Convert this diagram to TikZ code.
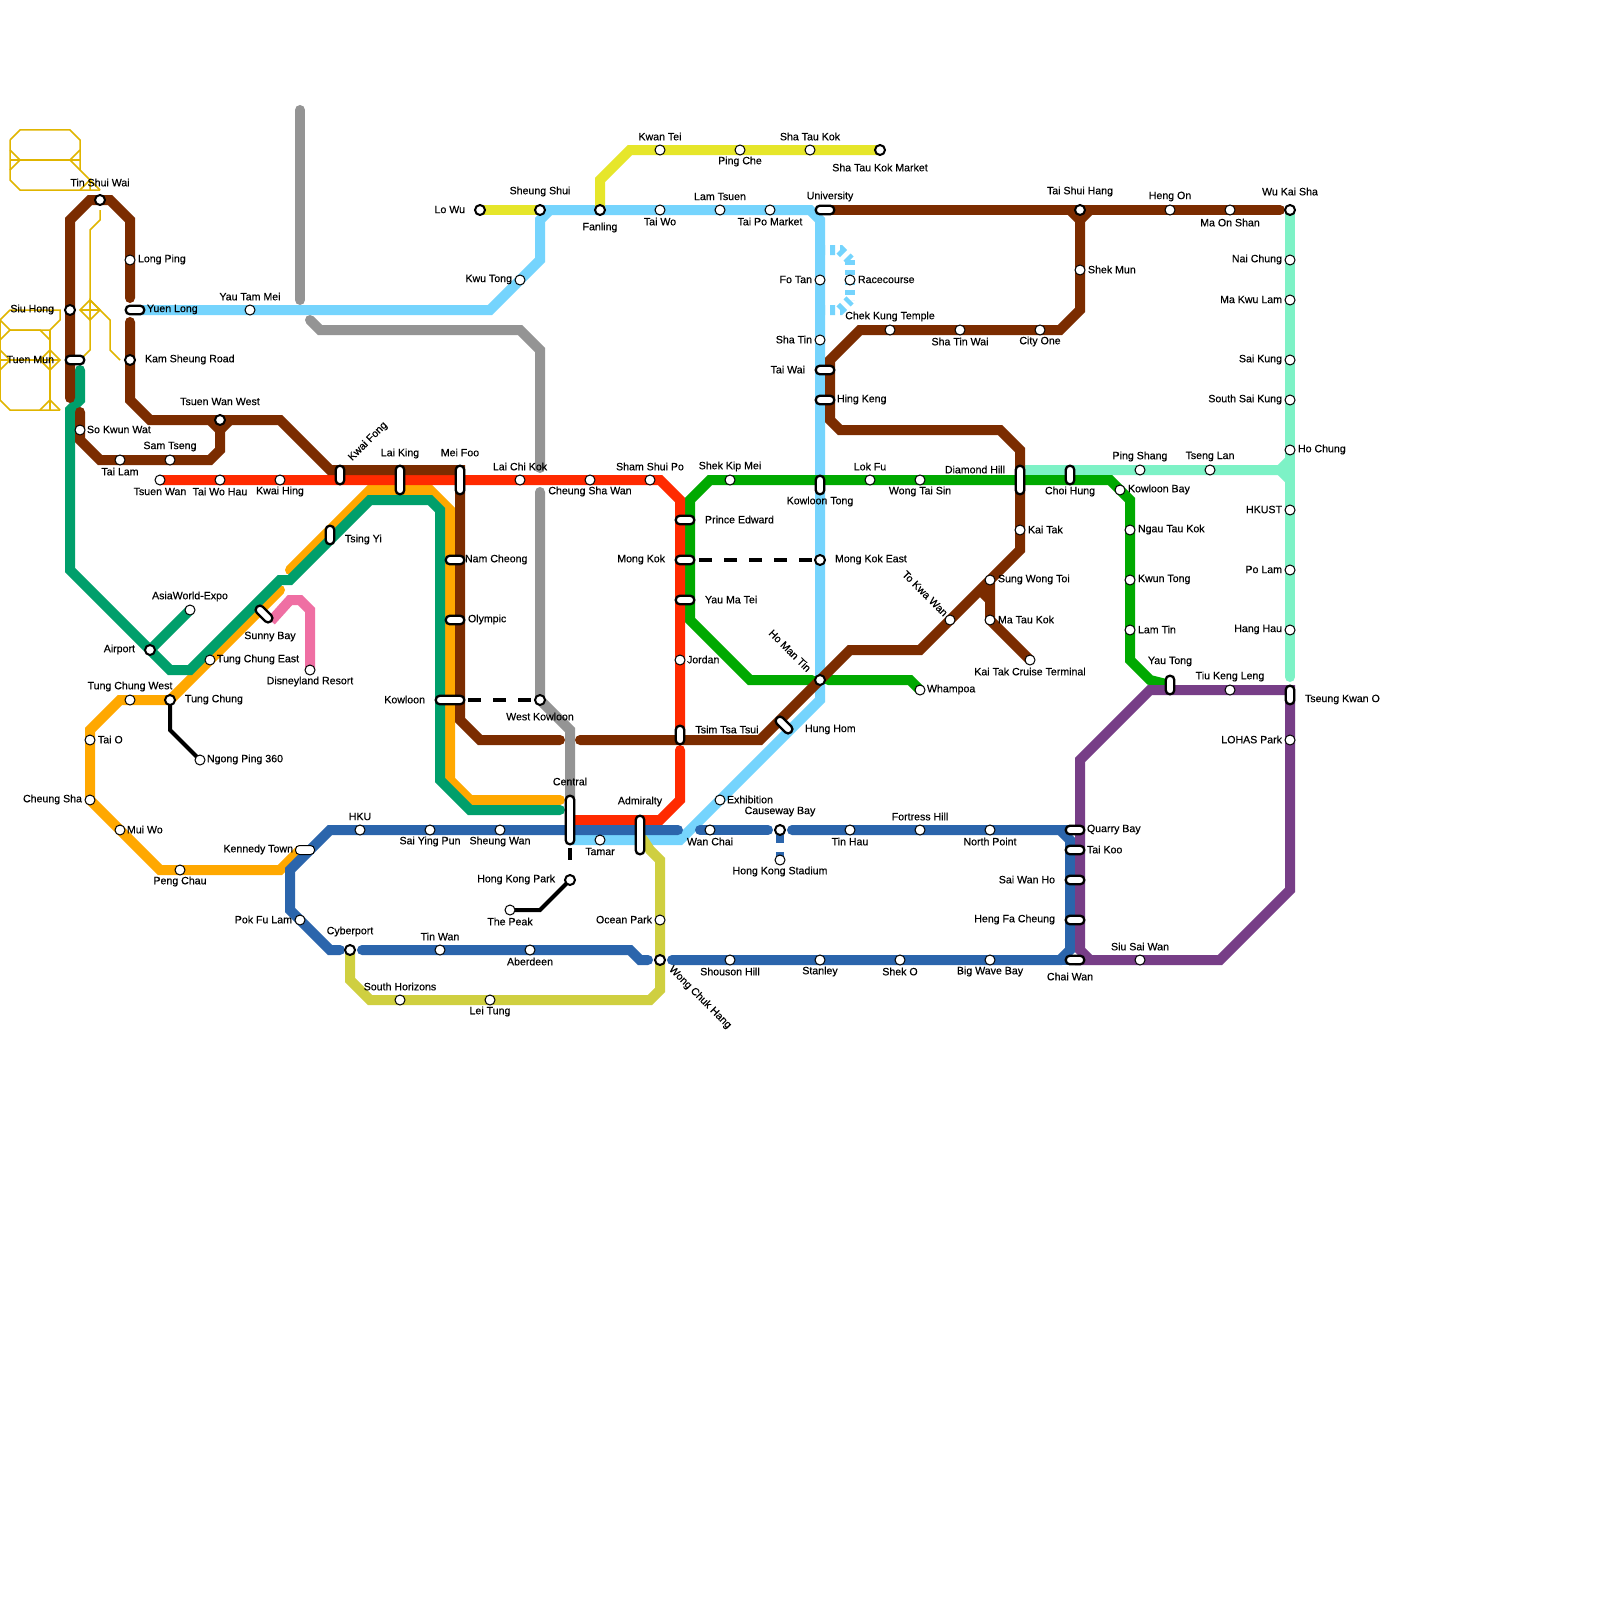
\documentclass[tikz,border=0pt]{standalone}
\usepackage{fontspec}
\setmainfont{Liberation Sans}[FakeBold=0.35]
\definecolor{cbrown}{HTML}{7B2C00}
\definecolor{csky}{HTML}{75D4FD}
\definecolor{cgreen}{HTML}{00A900}
\definecolor{cteal}{HTML}{009F6B}
\definecolor{corange}{HTML}{FFA800}
\definecolor{cred}{HTML}{FF2A00}
\definecolor{cgray}{HTML}{949494}
\definecolor{cyellow}{HTML}{E6E62A}
\definecolor{cpink}{HTML}{EF6FA3}
\definecolor{colive}{HTML}{CFCF40}
\definecolor{cblue}{HTML}{2B65AC}
\definecolor{cpurple}{HTML}{773E87}
\definecolor{cmint}{HTML}{7DF2C6}
\definecolor{criver}{HTML}{E0B500}
\pgfdeclarelayer{lines}
\pgfsetlayers{lines,main}
\tikzset{
  ln/.style={line width=10pt,line cap=round,line join=miter,miter limit=4},
  thinblack/.style={line width=4pt,line cap=round,line join=miter,black},
  dashlink/.style={line width=3.3pt,black},
  racedash/.style={line width=10pt,csky,dash pattern=on 5pt off 5pt},
  riverln/.style={line width=1.5pt,criver,line join=miter},
  st/.style={circle,draw=black,line width=1pt,fill=white,minimum size=10pt,inner sep=0pt,outer sep=0pt},
  ist/.style={circle,draw=black,line width=2pt,fill=white,minimum size=10pt,inner sep=0pt,outer sep=0pt},
  pill/.style 2 args={rectangle,draw=black,line width=2.3pt,fill=white,rounded corners=3.99pt,minimum width=#1pt,minimum height=#2pt,inner sep=0pt,outer sep=0pt},
  ph/.style={pill={18.5}{8.5}},
  pv/.style={pill={8.5}{18.5}},
  lab/.style={inner sep=0pt,outer sep=0pt,text=black,yshift=-0.5pt,font=\fontsize{10.6}{12}\selectfont},
  lc/.style={lab,anchor=center},
  lw/.style={lab,anchor=west},
  le/.style={lab,anchor=east},
}
\newcommand\SL[6]{\node[#1] (#2) at (#3) {}; \node[#4] (#2-t) at (#5) {#6};}
\begin{document}
\begin{tikzpicture}[x=1pt,y=-1pt]
\useasboundingbox (0,0) rectangle (1600,1600);

% stations
\SL{ist}{tsw}{100,200}{lc}{100,182}{Tin Shui Wai}
\SL{st}{longping}{130,260}{lw}{138,259}{Long Ping}
\SL{ph}{yuenlong}{135,310}{lw}{147,309}{Yuen Long}
\SL{ist}{siuhong}{70,310}{le}{54,309}{Siu Hong}
\SL{ph}{tuenmun}{75,360}{le}{54,359}{Tuen Mun}
\SL{ist}{kamsheung}{130,360}{lw}{145,359}{Kam Sheung Road}
\SL{ist}{tww}{220,420}{lc}{220,401}{Tsuen Wan West}
\SL{st}{sokwun}{80,430}{lw}{87,429}{So Kwun Wat}
\SL{st}{tailam}{120,460}{lc}{120,471}{Tai Lam}
\SL{st}{samtseng}{170,460}{lc}{170,446}{Sam Tseng}
\SL{st}{tsuenwan}{160,480}{lc}{160,491}{Tsuen Wan}
\SL{st}{taiwohau}{220,480}{lc}{220,491}{Tai Wo Hau}
\SL{st}{kwaihing}{280,480}{lc}{280,491}{Kwai Hing}
\SL{pv}{kwaifong}{340,475}{lc,rotate=45}{368,441}{Kwai Fong}
\SL{pill={8.5}{28.5}}{laiking}{400,480}{lc}{400,453}{Lai King}
\SL{pill={8.5}{28.5}}{meifoo}{460,480}{lc}{460,452}{Mei Foo}
\SL{st}{laichikok}{520,480}{lc}{520,466}{Lai Chi Kok}
\SL{st}{cheungsha}{590,480}{lc}{590,491}{Cheung Sha Wan}
\SL{st}{shamshui}{650,480}{lc}{650,466}{Sham Shui Po}
\SL{st}{shekkip}{730,480}{lc}{730,466}{Shek Kip Mei}
\SL{st}{lokfu}{870,480}{lc}{870,466}{Lok Fu}
\SL{st}{wongtai}{920,480}{lc}{920,491}{Wong Tai Sin}
\SL{pill={8.5}{28.5}}{diamond}{1020,480}{le}{1005,469}{Diamond Hill}
\SL{pv}{choihung}{1070,475}{lc}{1070,491}{Choi Hung}
\SL{st}{pingshang}{1140,470}{lc}{1140,456}{Ping Shang}
\SL{st}{tsenglan}{1210,470}{lc}{1210,456}{Tseng Lan}
\SL{st}{hochung}{1290,450}{lw}{1298,449}{Ho Chung}
\SL{st}{kowloonbay}{1120,490}{lw}{1128,489}{Kowloon Bay}
\SL{st}{ngautau}{1130,530}{lw}{1138,529}{Ngau Tau Kok}
\SL{st}{kwuntong}{1130,580}{lw}{1138,579}{Kwun Tong}
\SL{st}{lamtin}{1130,630}{lw}{1138,629}{Lam Tin}
\SL{pv}{yautong}{1170,685}{lc}{1170,661}{Yau Tong}
\SL{st}{tiukeng}{1230,690}{lc}{1230,676}{Tiu Keng Leng}
\SL{pv}{tko}{1290,695}{lw}{1305,699}{Tseung Kwan O}
\SL{st}{lohas}{1290,740}{le}{1282,739}{LOHAS Park}
\SL{ist}{wukai}{1290,210}{lc}{1290,191}{Wu Kai Sha}
\SL{st}{naichung}{1290,260}{le}{1282,259}{Nai Chung}
\SL{st}{makwu}{1290,300}{le}{1282,299}{Ma Kwu Lam}
\SL{st}{saikung}{1290,360}{le}{1282,359}{Sai Kung}
\SL{st}{southsai}{1290,400}{le}{1282,399}{South Sai Kung}
\SL{st}{hkust}{1290,510}{le}{1282,509}{HKUST}
\SL{st}{polam}{1290,570}{le}{1282,569}{Po Lam}
\SL{st}{hanghau}{1290,630}{le}{1282,629}{Hang Hau}
\SL{st}{maon}{1230,210}{lc}{1230,222}{Ma On Shan}
\SL{st}{hengon}{1170,210}{lc}{1170,196}{Heng On}
\SL{ist}{taishui}{1080,210}{lc}{1080,191}{Tai Shui Hang}
\SL{st}{shekmun}{1080,270}{lw}{1088,269}{Shek Mun}
\SL{st}{cityone}{1040,330}{lc}{1040,341}{City One}
\SL{st}{shatinwai}{960,330}{lc}{960,341}{Sha Tin Wai}
\SL{st}{chekkung}{890,330}{lc}{890,316}{Chek Kung Temple}
\SL{ph}{taiwai}{825,370}{le}{805,369}{Tai Wai}
\SL{ph}{hingkeng}{825,400}{lw}{837,399}{Hing Keng}
\SL{st}{shatin}{820,340}{le}{812,339}{Sha Tin}
\SL{st}{fotan}{820,280}{le}{812,279}{Fo Tan}
\SL{st}{racecourse}{850,280}{lw}{858,279}{Racecourse}
\SL{ph}{university}{825,210}{lc}{830,196}{University}
\SL{st}{taipo}{770,210}{lc}{770,221}{Tai Po Market}
\SL{st}{lamtsuen}{720,210}{lc}{720,196}{Lam Tsuen}
\SL{st}{taiwo}{660,210}{lc}{660,221}{Tai Wo}
\SL{ist}{fanling}{600,210}{lc}{600,227}{Fanling}
\SL{ist}{sheungshui}{540,210}{lc}{540,191}{Sheung Shui}
\SL{ist}{lowu}{480,210}{le}{465,209}{Lo Wu}
\SL{st}{kwutong}{520,280}{le}{512,279}{Kwu Tong}
\SL{st}{kwantei}{660,150}{lc}{660,136}{Kwan Tei}
\SL{st}{pingche}{740,150}{lc}{740,161}{Ping Che}
\SL{st}{shatau}{810,150}{lc}{810,136}{Sha Tau Kok}
\SL{ist}{shataumkt}{880,150}{lc}{880,167}{Sha Tau Kok Market}
\SL{st}{yautam}{250,310}{lc}{250,296}{Yau Tam Mei}
\SL{pv}{tsingyi}{330,535}{lw}{345,539}{Tsing Yi}
\SL{st}{asiaworld}{190,610}{lc}{190,596}{AsiaWorld-Expo}
\SL{{pill={20}{8.5}},rotate=-45}{sunnybay}{264,614}{lc}{270,636}{Sunny Bay}
\SL{ist}{airport}{150,650}{le}{135,649}{Airport}
\SL{st}{tceast}{210,660}{lw}{217,659}{Tung Chung East}
\SL{st}{disney}{310,670}{lc}{310,681}{Disneyland Resort}
\SL{st}{tcwest}{130,700}{lc}{130,686}{Tung Chung West}
\SL{ist}{tungchung}{170,700}{lw}{185,699}{Tung Chung}
\SL{st}{taio}{90,740}{lw}{98,739}{Tai O}
\SL{st}{ngongping}{200,760}{lw}{207,759}{Ngong Ping 360}
\SL{st}{cheungshat}{90,800}{le}{82,799}{Cheung Sha}
\SL{st}{muiwo}{120,830}{lw}{127,829}{Mui Wo}
\SL{st}{pengchau}{180,870}{lc}{180,881}{Peng Chau}
\SL{{pill={19}{9}},line width=1pt}{kennedy}{305,850}{le}{293,849}{Kennedy Town}
\SL{st}{hku}{360,830}{lc}{360,816}{HKU}
\SL{st}{saiying}{430,830}{lc}{430,841}{Sai Ying Pun}
\SL{st}{sheungwan}{500,830}{lc}{500,841}{Sheung Wan}
\SL{pill={8.5}{48.5}}{central}{570,820}{lc}{570,781}{Central}
\SL{st}{tamar}{600,840}{lc}{600,851}{Tamar}
\SL{pill={8.5}{38.5}}{admiralty}{640,835}{lc}{640,801}{Admiralty}
\SL{st}{wanchai}{710,830}{lc}{710,841}{Wan Chai}
\SL{st}{exhibition}{720,800}{lw}{727,799}{Exhibition}
\SL{ist}{causeway}{780,830}{lc}{780,811}{Causeway Bay}
\SL{st}{hkstadium}{780,860}{lc}{780,871}{Hong Kong Stadium}
\SL{st}{tinhau}{850,830}{lc}{850,841}{Tin Hau}
\SL{st}{fortress}{920,830}{lc}{920,816}{Fortress Hill}
\SL{st}{northpoint}{990,830}{lc}{990,841}{North Point}
\SL{ph}{quarry}{1075,830}{lw}{1087,829}{Quarry Bay}
\SL{ph}{taikoo}{1075,850}{lw}{1087,849}{Tai Koo}
\SL{ph}{saiwan}{1075,880}{le}{1055,879}{Sai Wan Ho}
\SL{ph}{hengfa}{1075,920}{le}{1055,919}{Heng Fa Cheung}
\SL{ph}{chaiwan}{1075,960}{lc}{1070,976}{Chai Wan}
\SL{st}{bigwave}{990,960}{lc}{990,971}{Big Wave Bay}
\SL{st}{sheko}{900,960}{lc}{900,971}{Shek O}
\SL{st}{stanley}{820,960}{lc}{820,971}{Stanley}
\SL{st}{shouson}{730,960}{lc}{730,971}{Shouson Hill}
\SL{ist}{wongchuk}{660,960}{lc,rotate=-45}{700,997}{Wong Chuk Hang}
\SL{st}{siusai}{1140,960}{lc}{1140,946}{Siu Sai Wan}
\SL{st}{oceanpark}{660,920}{le}{652,919}{Ocean Park}
\SL{st}{leitung}{490,1000}{lc}{490,1011}{Lei Tung}
\SL{st}{southhor}{400,1000}{lc}{400,986}{South Horizons}
\SL{st}{aberdeen}{530,950}{lc}{530,961}{Aberdeen}
\SL{st}{tinwan}{440,950}{lc}{440,936}{Tin Wan}
\SL{ist}{cyberport}{350,950}{lc}{350,931}{Cyberport}
\SL{st}{pokfulam}{300,920}{le}{292,919}{Pok Fu Lam}
\SL{ist}{hkpark}{570,880}{le}{555,879}{Hong Kong Park}
\SL{st}{peak}{510,910}{lc}{510,921}{The Peak}
\SL{pill={28.5}{8.5}}{kowloon}{450,700}{le}{425,699}{Kowloon}
\SL{ist}{westkln}{540,700}{lc}{540,716}{West Kowloon}
\SL{ph}{namcheong}{455,560}{lw}{465,559}{Nam Cheong}
\SL{ph}{olympic}{455,620}{lw}{468,619}{Olympic}
\SL{ph}{prince}{685,520}{lw}{705,519}{Prince Edward}
\SL{ph}{mongkok}{685,560}{le}{665,559}{Mong Kok}
\SL{ph}{yaumatei}{685,600}{lw}{705,599}{Yau Ma Tei}
\SL{st}{jordan}{680,660}{lw}{687,659}{Jordan}
\SL{pv}{tst}{680,735}{lc}{727,729}{Tsim Tsa Tsui}
\SL{ist}{mkeast}{820,560}{lw}{835,559}{Mong Kok East}
\SL{pv}{kltong}{820,485}{lc}{820,501}{Kowloon Tong}
\SL{{pill={20}{8.5}},rotate=-45}{hunghom}{784,725}{lw}{805,729}{Hung Hom}
\SL{ist}{homantin}{820,680}{lc,rotate=-45}{790,650}{Ho Man Tin}
\SL{st}{whampoa}{920,690}{lw}{927,689}{Whampoa}
\SL{st}{tokwawan}{950,620}{lc,rotate=-45}{925,593}{To Kwa Wan}
\SL{st}{sungwong}{990,580}{lw}{998,579}{Sung Wong Toi}
\SL{st}{matau}{990,620}{lw}{998,619}{Ma Tau Kok}
\SL{st}{cruise}{1030,660}{lc}{1030,671}{Kai Tak Cruise Terminal}
\SL{st}{kaitak}{1020,530}{lw}{1028,529}{Kai Tak}

\begin{pgfonlayer}{lines}
\fill[white] (0,0) rectangle (1600,1600);
% thin yellow lines
\draw[riverln] (10,140)--(20,130)--(70,130)--(80,140)--(80,170);
\draw[riverln] (10,140)--(10,180)--(20,190)--(100,190);
\draw[riverln] (10,160)--(80,160);
\draw[riverln] (10,150)--(20,160)--(10,170);
\draw[riverln] (80,150)--(70,160)--(100,190);
\draw[riverln] (80,190)--(90,180)--(90,190);
\draw[riverln] (100,210)--(100,220)--(90,230)--(90,350)--(80,360);
\draw[riverln] (90,300)--(80,310)--(90,320)--(100,310)--cycle;
\draw[riverln] (80,310)--(100,310);
\draw[riverln] (90,320)--(90,300)--(110,320)--(110,350)--(120,360);
\draw[riverln] (0,320)--(10,310)--(60,310)--(60,320)--(50,330)--(10,330);
\draw[riverln] (0,320)--(10,330)--(0,340);
\draw[riverln] (10,330)--(40,330)--(50,340);
\draw[riverln] (50,330)--(50,410);
\draw[riverln] (50,350)--(60,360)--(50,370)--(40,360)--cycle;
\draw[riverln] (0,360)--(60,360);
\draw[riverln] (0,350)--(10,360)--(0,370);
\draw[riverln] (0,320)--(0,400)--(10,410)--(60,410);
\draw[riverln] (40,410)--(50,400)--(60,410);

% grey
\draw[ln,cgray] (300,110)--(300,300);
\draw[ln,cgray] (310,320)--(320,330)--(520,330)--(540,350)--(540,468);
\draw[ln,cgray] (540,492)--(westkln.center)--(570,730)--(central.center);
% light blue
\draw[ln,csky,line cap=butt] (yuenlong.center)--(490,310)--(540,260)--(540,220)--(550,210)--(810,210)--(820,220)--(820,700)--(680,840)--(central.center |- tamar.center);
\draw[ln,csky,line cap=butt] (sheungshui.center)--(550,210);
\draw[racedash] (820,250)--(840,250)--(850,260);
\draw[racedash] (850,260)--(850,300);
\draw[racedash] (820,310)--(840,310)--(850,300);
% yellow
\draw[ln,cyellow] (lowu.center)--(sheungshui.center);
\draw[ln,cyellow] (fanling.center)--(600,180)--(630,150)--(shataumkt.center);
% mint
\draw[ln,cmint,line cap=butt] (diamond.center |- pingshang.center)--(1280,470)--(1290,460);
\draw[ln,cmint,line cap=butt] (1280,470)--(1290,480);
\draw[ln,cmint] (wukai.center)--(1290,677);
% olive
\draw[ln,colive] (admiralty.center)--(650,850)--(660,860)--(660,990)--(650,1000)--(370,1000)--(350,980)--(cyberport.center);
% orange
\draw[ln,corange] (290,570)--(370,490)--(430,490)--(450,510)--(450,780)--(470,800)--(560,800);
\draw[ln,corange] (280,590)--(tungchung.center)--(120,700)--(90,730)--(90,800)--(160,870)--(280,870)--(300,850);
% pink
\draw[ln,cpink,line cap=butt] (sunnybay.east)--(290,600)--(300,600)--(310,610)--(disney.center);
% teal
\draw[ln,cteal] (80,370)--(80,400)--(70,410)--(70,570)--(airport.center)--(170,670)--(190,670)--(280,580)--(290,580)--(370,500)--(430,500)--(440,510)--(440,780)--(470,810)--(560,810);
\draw[ln,cteal] (airport.center)--(asiaworld.center);
% green
\draw[ln,cgreen] (whampoa.center)--(910,680)--(828,680);
\draw[ln,cgreen] (812,680)--(750,680)--(690,620)--(690,500)--(710,480)--(1110,480)--(1130,500)--(1130,660)--(1150,680)--(yautong.center);
% red
\draw[ln,cred,line cap=butt] (tsuenwan.center)--(660,480)--(680,500)--(tst.center);
\draw[ln,cred] (680,750)--(680,800)--(660,820)--(central.center);
% island blue
\draw[ln,cblue] (678,830)--(330,830)--(290,870)--(290,910)--(330,950)--(340,950);
\draw[ln,cblue] (700,830)--(768,830);
\draw[ln,cblue] (792,830)--(1060,830)--(1070,840)--(1070,950)--(1060,960)--(672,960);
\draw[ln,cblue,line cap=butt] (1060,830)--(quarry.center);
\draw[ln,cblue,line cap=butt] (1060,960)--(chaiwan.center);
\draw[ln,cblue] (362,950)--(630,950)--(640,960)--(648,960);
\draw[line width=8pt,cblue] (780,835)--(780,843);
\draw[line width=8pt,cblue] (780,852)--(780,858);
% purple
\draw[ln,cpurple,line cap=butt] (chaiwan.center)--(1220,960)--(1290,890)--(tko.center);
\draw[ln,cpurple,line cap=butt] (tko.center)--(1290,690)--(1150,690)--(1080,760)--(1080,950)--(1090,960);
% brown
\draw[ln,cbrown] (70,398)--(70,220)--(90,200)--(110,200)--(130,220)--(130,298);
\draw[ln,cbrown] (130,322)--(130,400)--(150,420)--(280,420)--(330,470)--(460,470)--(460,720)--(480,740)--(560,740);
\draw[ln,cbrown] (80,412)--(80,440)--(100,460)--(210,460)--(220,450)--(220,430)--(210,420);
\draw[ln,cbrown,line cap=butt] (220,430)--(230,420);
\draw[ln,cbrown] (580,740)--(760,740)--(850,650)--(920,650)--(1020,550)--(1020,450)--(1000,430)--(840,430)--(830,420)--(830,360)--(860,330)--(1060,330)--(1080,310)--(1080,220)--(1070,210);
\draw[ln,cbrown,line cap=butt] (1080,220)--(1090,210);
\draw[ln,cbrown] (university.center)--(1280,210);
\draw[ln,cbrown,line cap=butt] (sungwong.center)--(matau.center)--(cruise.center);
\draw[ln,cbrown,line cap=butt] (980,590)--(990,600);
% black links
\draw[thinblack] (tungchung.center)--(170,730)--(ngongping.center);
\draw[thinblack] (hkpark.center)--(540,910)--(peak.center);
\end{pgfonlayer}
% dashed links
\draw[dashlink,dash pattern=on 12.5pt off 12.5pt] (699,560)--(mkeast.west);
\draw[dashlink,dash pattern=on 13pt off 12pt] (468,700)--(westkln.west);
\draw[dashlink] (570,848)--(570,860);
\end{tikzpicture}
\end{document}
